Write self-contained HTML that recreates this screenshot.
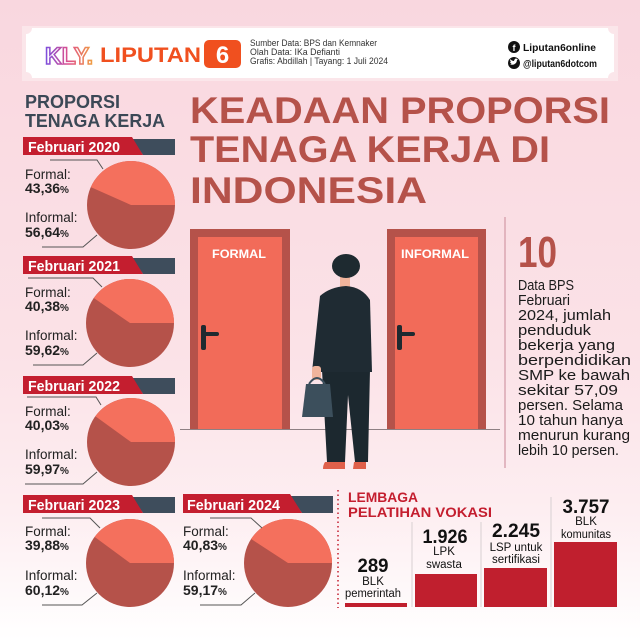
<!DOCTYPE html>
<html><head><meta charset="utf-8"><style>
html,body{margin:0;padding:0;background:#fff;}
svg{display:block;}
text{font-family:"Liberation Sans",sans-serif;}
</style></head><body>
<svg width="640" height="640" viewBox="0 0 640 640" xmlns="http://www.w3.org/2000/svg">
<defs>
<linearGradient id="bg" x1="0" y1="0" x2="0" y2="1">
<stop offset="0" stop-color="#f9d7df"/>
<stop offset="0.55" stop-color="#fbe2e7"/>
<stop offset="0.8" stop-color="#fdeef1"/>
<stop offset="1" stop-color="#ffffff"/>
</linearGradient>
<linearGradient id="kly" x1="0" y1="0" x2="1" y2="0">
<stop offset="0" stop-color="#7a4fe0"/>
<stop offset="0.5" stop-color="#e0508a"/>
<stop offset="1" stop-color="#f0a040"/>
</linearGradient>
</defs>
<rect width="640" height="640" fill="url(#bg)"/>

<!-- Header -->
<rect x="22" y="26" width="596" height="55" fill="#fbe6ea"/>
<path d="M32,28 H608 a6,6 0 0 0 6,6 V72 a6,6 0 0 0 -6,6 H32 a6,6 0 0 0 -6,-6 V34 a6,6 0 0 0 6,-6 Z" fill="#fff"/>
<text x="45" y="64" font-size="24" font-weight="bold" fill="#fff" stroke="url(#kly)" stroke-width="1.6" textLength="48" lengthAdjust="spacingAndGlyphs">KLY.</text>
<text x="100" y="62" font-size="21" font-weight="bold" fill="#f0501f" textLength="101" lengthAdjust="spacingAndGlyphs">LIPUTAN</text>
<rect x="204" y="40" width="37" height="28" rx="5" fill="#f0501f"/>
<text x="222.5" y="63" font-size="24" font-weight="bold" fill="#fff" text-anchor="middle">6</text>
<text x="250" y="46" font-size="8.8" fill="#333" textLength="127" lengthAdjust="spacingAndGlyphs">Sumber Data: BPS dan Kemnaker</text>
<text x="250" y="55" font-size="8.8" fill="#333">Olah Data: IKa Defianti</text>
<text x="250" y="64" font-size="8.8" fill="#333" textLength="138" lengthAdjust="spacingAndGlyphs">Grafis: Abdillah | Tayang: 1 Juli 2024</text>
<circle cx="514" cy="47" r="6" fill="#111"/>
<text x="514" y="51" font-size="9" font-weight="bold" fill="#fff" text-anchor="middle">f</text>
<text x="523" y="51" font-size="10" font-weight="bold" fill="#111" textLength="73" lengthAdjust="spacingAndGlyphs">Liputan6online</text>
<circle cx="514" cy="63" r="6" fill="#111"/>
<path d="M510,64 q3,2 6,-1 q1,-2 1,-3 l1,-1 l-1,0 q-1,-1 -2,0 q-1,1 -1,2 q-2,0 -4,-2 q0,2 1,3 q-1,0 -1,0 q1,2 2,2 z" fill="#fff"/>
<text x="523" y="67" font-size="10" font-weight="bold" fill="#111" textLength="74" lengthAdjust="spacingAndGlyphs">@liputan6dotcom</text>

<!-- Left title -->
<text x="25" y="108" font-size="18" font-weight="bold" fill="#3b4856" textLength="95" lengthAdjust="spacingAndGlyphs">PROPORSI</text>
<text x="25" y="127" font-size="18" font-weight="bold" fill="#3b4856" textLength="140" lengthAdjust="spacingAndGlyphs">TENAGA KERJA</text>

<!-- Main title -->
<text x="190" y="123" font-size="37" font-weight="bold" fill="#b5524a" textLength="420" lengthAdjust="spacingAndGlyphs">KEADAAN PROPORSI</text>
<text x="190" y="162" font-size="37" font-weight="bold" fill="#b5524a" textLength="360" lengthAdjust="spacingAndGlyphs">TENAGA KERJA DI</text>
<text x="190" y="203" font-size="37" font-weight="bold" fill="#b5524a" textLength="237" lengthAdjust="spacingAndGlyphs">INDONESIA</text>

<!-- Banners -->
<g>
<polygon points="132,139 175,139 175,155 143,155" fill="#3e4d5c"/>
<polygon points="23,137 132,137 143,155 23,155" fill="#c41e2f"/>
<text x="28" y="152" font-size="14.5" font-weight="bold" fill="#fff" textLength="92" lengthAdjust="spacingAndGlyphs">Februari 2020</text>

<polygon points="132,258 175,258 175,274 143,274" fill="#3e4d5c"/>
<polygon points="23,256 132,256 143,274 23,274" fill="#c41e2f"/>
<text x="28" y="271" font-size="14.5" font-weight="bold" fill="#fff" textLength="92" lengthAdjust="spacingAndGlyphs">Februari 2021</text>

<polygon points="132,378 175,378 175,394 143,394" fill="#3e4d5c"/>
<polygon points="23,376 132,376 143,394 23,394" fill="#c41e2f"/>
<text x="28" y="391" font-size="14.5" font-weight="bold" fill="#fff" textLength="92" lengthAdjust="spacingAndGlyphs">Februari 2022</text>

<polygon points="132,497 175,497 175,513 143,513" fill="#3e4d5c"/>
<polygon points="23,495 132,495 143,513 23,513" fill="#c41e2f"/>
<text x="28" y="510" font-size="14.5" font-weight="bold" fill="#fff" textLength="92" lengthAdjust="spacingAndGlyphs">Februari 2023</text>

<polygon points="290,496 333,496 333,513 302,513" fill="#3e4d5c"/>
<polygon points="183,494 290,494 302,513 183,513" fill="#c41e2f"/>
<text x="187" y="510" font-size="14.5" font-weight="bold" fill="#fff" textLength="93" lengthAdjust="spacingAndGlyphs">Februari 2024</text>
</g>

<!-- Pies -->
<g>
<circle cx="131" cy="205" r="44" fill="#b5524a"/>
<path d="M131,205 L175,205 A44,44 0 0 0 90.8,187.1 Z" fill="#f4705d"/>
<circle cx="130" cy="323" r="44" fill="#b5524a"/>
<path d="M130,323 L174,323 A44,44 0 0 0 93.8,298 Z" fill="#f4705d"/>
<circle cx="131" cy="442" r="44" fill="#b5524a"/>
<path d="M131,442 L175,442 A44,44 0 0 0 95.4,416.2 Z" fill="#f4705d"/>
<circle cx="130" cy="563" r="44" fill="#b5524a"/>
<path d="M130,563 L174,563 A44,44 0 0 0 94.6,536.9 Z" fill="#f4705d"/>
<circle cx="288" cy="563" r="44" fill="#b5524a"/>
<path d="M288,563 L332,563 A44,44 0 0 0 251.1,539 Z" fill="#f4705d"/>
</g>

<!-- Leader lines -->
<g fill="none" stroke="#555" stroke-width="1">
<path d="M50,160 H97 L103,169"/><path d="M42,247 H83 L97,235"/>
<path d="M28,278 H93 L102,287"/><path d="M33,365 H83 L97,353"/>
<path d="M27,397 H96 L101,405"/><path d="M25,484 H83 L97,472"/>
<path d="M42,518 H90 L100,528"/><path d="M42,605 H82 L97,593"/>
<path d="M210,518 H251 L262,528"/><path d="M200,605 H241 L255,593"/>
</g>

<!-- Labels -->
<g fill="#222" font-size="13.5">
<text x="25" y="179">Formal:</text>
<text x="25" y="193" font-weight="bold" font-size="14">43,36<tspan font-size="10">%</tspan></text>
<text x="25" y="222">Informal:</text>
<text x="25" y="237" font-weight="bold" font-size="14">56,64<tspan font-size="10">%</tspan></text>

<text x="25" y="297">Formal:</text>
<text x="25" y="311" font-weight="bold" font-size="14">40,38<tspan font-size="10">%</tspan></text>
<text x="25" y="340">Informal:</text>
<text x="25" y="355" font-weight="bold" font-size="14">59,62<tspan font-size="10">%</tspan></text>

<text x="25" y="416">Formal:</text>
<text x="25" y="430" font-weight="bold" font-size="14">40,03<tspan font-size="10">%</tspan></text>
<text x="25" y="459">Informal:</text>
<text x="25" y="474" font-weight="bold" font-size="14">59,97<tspan font-size="10">%</tspan></text>

<text x="25" y="536">Formal:</text>
<text x="25" y="550" font-weight="bold" font-size="14">39,88<tspan font-size="10">%</tspan></text>
<text x="25" y="580">Informal:</text>
<text x="25" y="595" font-weight="bold" font-size="14">60,12<tspan font-size="10">%</tspan></text>

<text x="183" y="536">Formal:</text>
<text x="183" y="550" font-weight="bold" font-size="14">40,83<tspan font-size="10">%</tspan></text>
<text x="183" y="580">Informal:</text>
<text x="183" y="595" font-weight="bold" font-size="14">59,17<tspan font-size="10">%</tspan></text>
</g>

<!-- Doors -->
<rect x="190" y="229" width="100" height="200" fill="#b5524a"/>
<rect x="198" y="237" width="84" height="192" fill="#f26b59"/>
<text x="239" y="258" font-size="12" font-weight="bold" fill="#fff" text-anchor="middle" textLength="54" lengthAdjust="spacingAndGlyphs">FORMAL</text>
<rect x="201" y="325" width="5" height="25" rx="2" fill="#1e2a30"/>
<rect x="201" y="332" width="18" height="4" rx="2" fill="#1e2a30"/>

<rect x="387" y="229" width="99" height="200" fill="#b5524a"/>
<rect x="395" y="237" width="83" height="192" fill="#f26b59"/>
<text x="435" y="258" font-size="12" font-weight="bold" fill="#fff" text-anchor="middle" textLength="68" lengthAdjust="spacingAndGlyphs">INFORMAL</text>
<rect x="397" y="325" width="5" height="25" rx="2" fill="#1e2a30"/>
<rect x="397" y="332" width="18" height="4" rx="2" fill="#1e2a30"/>

<line x1="180" y1="429.5" x2="500" y2="429.5" stroke="#8e8083" stroke-width="1"/>

<!-- Man -->
<g>
<rect x="340" y="276" width="10" height="12" fill="#f0b49c"/>
<ellipse cx="346" cy="266" rx="14" ry="12" fill="#1e2a30"/>
<polygon points="322,370 370,370 368,462 355,462 348,395 345,462 327,462" fill="#1c282f"/>
<path d="M320,296 Q330,287 346,286 Q362,287 370,300 L372,372 L312,372 Z" fill="#1f2b33"/>
<rect x="312" y="366" width="9" height="14" rx="3" fill="#f0b49c"/>
<path d="M309,384 Q317,372 325,384" fill="none" stroke="#3c4f5c" stroke-width="2"/>
<polygon points="306,384 330,384 333,417 302,417" fill="#3c4f5c"/>
<path d="M325,462 h20 v7 h-22 q0,-4 2,-7 z" fill="#e0604a"/>
<path d="M354,462 h12 v7 h-13 z" fill="#e0604a"/>
</g>

<!-- Separator -->
<line x1="505" y1="217" x2="505" y2="468" stroke="#d9a6b2" stroke-width="1.5"/>

<!-- Right text -->
<text x="518" y="267" font-size="44" font-weight="bold" fill="#b5524a" textLength="39" lengthAdjust="spacingAndGlyphs">10</text>
<g font-size="15" fill="#1a1a1a">
<text x="518" y="290" textLength="56" lengthAdjust="spacingAndGlyphs">Data BPS</text>
<text x="518" y="305" textLength="52" lengthAdjust="spacingAndGlyphs">Februari</text>
<text x="518" y="320" textLength="93" lengthAdjust="spacingAndGlyphs">2024, jumlah</text>
<text x="518" y="335" textLength="73" lengthAdjust="spacingAndGlyphs">penduduk</text>
<text x="518" y="350" textLength="97" lengthAdjust="spacingAndGlyphs">bekerja yang</text>
<text x="518" y="365" textLength="113" lengthAdjust="spacingAndGlyphs">berpendidikan</text>
<text x="518" y="380" textLength="112" lengthAdjust="spacingAndGlyphs">SMP ke bawah</text>
<text x="518" y="395" textLength="100" lengthAdjust="spacingAndGlyphs">sekitar 57,09</text>
<text x="518" y="410" textLength="105" lengthAdjust="spacingAndGlyphs">persen. Selama</text>
<text x="518" y="425" textLength="105" lengthAdjust="spacingAndGlyphs">10 tahun hanya</text>
<text x="518" y="440" textLength="112" lengthAdjust="spacingAndGlyphs">menurun kurang</text>
<text x="518" y="455" textLength="101" lengthAdjust="spacingAndGlyphs">lebih 10 persen.</text>
</g>

<!-- Bottom bars section -->
<line x1="338" y1="490" x2="338" y2="608" stroke="#c41e2f" stroke-width="1.5" stroke-dasharray="1.5,3"/>
<text x="348" y="502" font-size="14" font-weight="bold" fill="#c41e2f" textLength="70" lengthAdjust="spacingAndGlyphs">LEMBAGA</text>
<text x="348" y="517" font-size="14" font-weight="bold" fill="#c41e2f" textLength="144" lengthAdjust="spacingAndGlyphs">PELATIHAN VOKASI</text>

<g stroke="#d8d0d2" stroke-width="1">
<line x1="412" y1="522" x2="412" y2="607"/>
<line x1="481" y1="522" x2="481" y2="607"/>
<line x1="551" y1="497" x2="551" y2="607"/>
</g>
<g fill="#c01f2e">
<rect x="345" y="603" width="62" height="4"/>
<rect x="415" y="574" width="62" height="33"/>
<rect x="484" y="568" width="63" height="39"/>
<rect x="554" y="542" width="63" height="65"/>
</g>
<g fill="#111" text-anchor="middle">
<text x="373" y="572" font-size="19" font-weight="bold" textLength="31" lengthAdjust="spacingAndGlyphs">289</text>
<text x="373" y="585" font-size="11.5">BLK</text>
<text x="373" y="597" font-size="11.5" textLength="56" lengthAdjust="spacingAndGlyphs">pemerintah</text>
<text x="445" y="543" font-size="19" font-weight="bold" textLength="45" lengthAdjust="spacingAndGlyphs">1.926</text>
<text x="444" y="555" font-size="11.5">LPK</text>
<text x="444" y="568" font-size="11.5">swasta</text>
<text x="516" y="537" font-size="19" font-weight="bold" textLength="48" lengthAdjust="spacingAndGlyphs">2.245</text>
<text x="516" y="551" font-size="11.5">LSP untuk</text>
<text x="516" y="563" font-size="11.5">sertifikasi</text>
<text x="586" y="513" font-size="19" font-weight="bold" textLength="47" lengthAdjust="spacingAndGlyphs">3.757</text>
<text x="586" y="525" font-size="11.5">BLK</text>
<text x="586" y="538" font-size="11.5" textLength="50" lengthAdjust="spacingAndGlyphs">komunitas</text>
</g>
</svg>
</body></html>
